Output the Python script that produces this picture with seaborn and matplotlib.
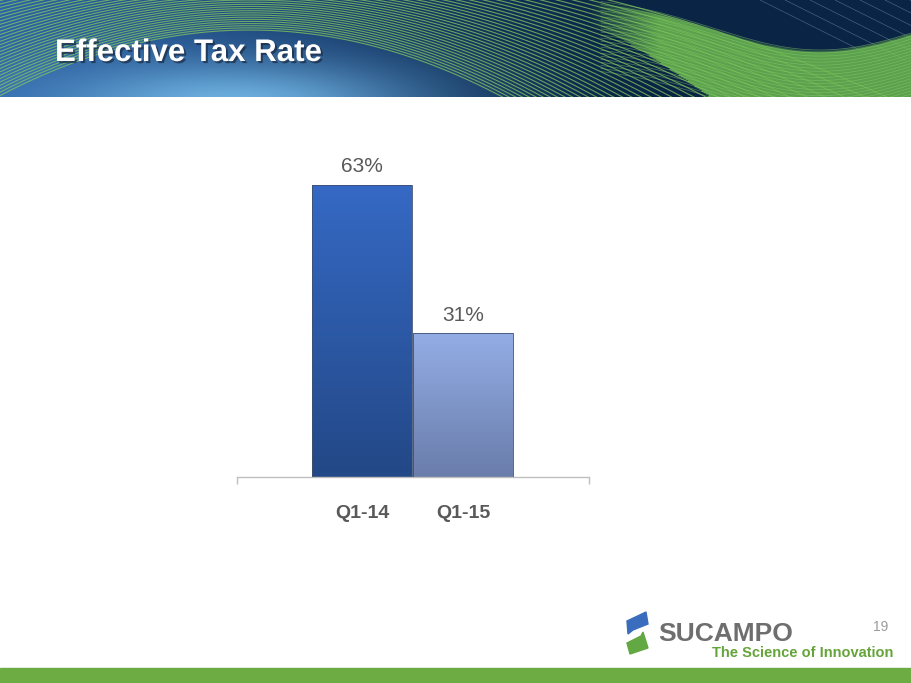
import numpy as np
import pandas as pd
import seaborn as sns
import matplotlib.pyplot as plt
import matplotlib.patheffects as pe
from matplotlib.patches import Polygon, Rectangle
from matplotlib.colors import LinearSegmentedColormap, to_rgb

quarters = ["Q1-14", "Q1-15"]
tax_rates = [63, 31]
bar_colors = ["#2f5fb3", "#8099d2"]

W, H = 911, 683

sns.set_theme(style="white")
plt.rcParams['font.family'] = ['Liberation Sans', 'DejaVu Sans']

fig = plt.figure(figsize=(W / 100, H / 100), dpi=100)
fig.patch.set_facecolor("white")

# ---- header banner ----
ban_h = 97
ax_bg = fig.add_axes([0, 1 - ban_h / H, 1, ban_h / H])
ax_bg.set_xlim(0, W)
ax_bg.set_ylim(ban_h, 0)
ax_bg.axis("off")

xx, yy = np.meshgrid(np.linspace(0, W, 400), np.linspace(0, ban_h, 80))
left_c = np.array(to_rgb("#2c62a6"))
right_c = np.array(to_rgb("#0a2445"))
light_c = np.array(to_rgb("#6cafdf"))
frac = np.clip(xx / 620, 0, 1)[..., None]
img = left_c * (1 - frac) + right_c * frac
spot = np.exp(-(((xx - 230) / 190) ** 2 + ((yy - 105) / 45) ** 2))[..., None]
img = img * (1 - spot) + light_c * spot
ax_bg.imshow(img, extent=(0, W, ban_h, 0), aspect="auto", zorder=0)

xs = np.linspace(0, W, 800)
# arching family of thin lines from the left, descending to lower right
for a, c in zip(np.linspace(-45, 30, 36), np.linspace(0.00035, 0.00105, 36)):
    ax_bg.plot(xs, a + c * (xs - 250) ** 2, color="#84c85f", lw=0.8, alpha=0.75, zorder=1)

# solid green wave band on the right
def band_top(x):
    return -5 + 55 * np.exp(-((x - 820) / 150) ** 2)

top = band_top(xx)
bottom = top + 26 + np.clip(xx - 600, 0, None) * 0.4
ramp = np.clip((xx - 590) / 70, 0, 1)
inside = (yy >= top) & (yy <= bottom)
soft = np.clip((yy - top) / 3, 0, 1)
rgba = np.zeros(xx.shape + (4,))
rgba[..., :3] = to_rgb("#6cb94f")
rgba[..., 3] = np.where(inside, 0.85 * ramp * soft, 0)
ax_bg.imshow(rgba, extent=(0, W, ban_h, 0), aspect="auto", zorder=2)
xr = xs[xs > 600]
for d in np.linspace(0, 70, 24):
    ax_bg.plot(xr, band_top(xr) + d, color="#8fd070", lw=0.5, alpha=0.5, zorder=3)
# faint diagonal lines top right
for s in np.linspace(880, 1080, 9):
    ax_bg.plot([s - 120, s], [0, 60], color="#8fa7bf", lw=0.5, alpha=0.45, zorder=1)

fig.text(55 / W, 1 - 53 / H, "Effective Tax Rate", color="white", fontsize=22.5,
         fontweight="bold", va="center", ha="left",
         path_effects=[pe.withSimplePatchShadow(offset=(1.5, -1.5), shadow_rgbFace="#1a2a40", alpha=0.7)])

# ---- chart ----
ax = fig.add_axes([237 / W, 1 - 477 / H, (589 - 237) / W, (477 - 152) / H])
df = pd.DataFrame({"quarter": quarters, "rate": tax_rates})
sns.barplot(data=df, x="quarter", y="rate", hue="quarter", palette=bar_colors,
            width=0.99, legend=False, ax=ax, edgecolor="#3f4f70", linewidth=0.6)

grads = [("#3569c4", "#234887"), ("#93ade5", "#6a7dab")]
for patch, (top_c, bot_c) in zip(ax.patches, grads):
    x0, y0 = patch.get_x(), patch.get_y()
    w, h = patch.get_width(), patch.get_height()
    cmap = LinearSegmentedColormap.from_list("g", [bot_c, top_c])
    im = ax.imshow(np.linspace(0, 1, 100)[:, None], cmap=cmap, origin="lower",
                   extent=(x0, x0 + w, y0, y0 + h), aspect="auto", zorder=2)
    im.set_clip_path(patch)
    patch.set_zorder(3)
    patch.set_facecolor("none")

for cont in ax.containers:
    ax.bar_label(cont, fmt="%d%%", padding=6, fontsize=15, color="#595959")

ax.set_xlim(-1.24, 2.25)
ax.set_ylim(0, 70)
ax.set_xlabel("")
ax.set_ylabel("")
ax.set_yticks([])
for s in ["top", "left", "right"]:
    ax.spines[s].set_visible(False)
ax.spines["bottom"].set_color("#bfbfbf")
ax.spines["bottom"].set_linewidth(1)
ax.tick_params(axis="x", which="major", bottom=False, length=0, pad=20,
               labelsize=14, labelcolor="#595959")
for lab in ax.get_xticklabels():
    lab.set_fontweight("bold")
ax.set_xticks([-1.239, 2.249], minor=True)
ax.tick_params(axis="x", which="minor", bottom=True, length=5, color="#bfbfbf",
               width=1, direction="out")
ax.set_facecolor("none")

# ---- footer ----
ax_ft = fig.add_axes([0, 0, 1, 1], zorder=-1)
ax_ft.set_xlim(0, W)
ax_ft.set_ylim(H, 0)
ax_ft.axis("off")
ax_ft.add_patch(Rectangle((0, 668), W, 15, color="#6dab43"))
ax_ft.add_patch(Polygon([[627, 621], [646, 612], [648, 624], [633, 630], [628, 634]],
                        color="#3a6dbd"))
ax_ft.add_patch(Polygon([[627, 643], [641, 636], [643, 632], [648, 648], [630, 654]],
                        color="#62a843"))

fig.text(658 / W, 1 - 634 / H, "SUCAMPO", color="#6e6e6e", fontsize=19,
         fontweight="bold", va="center", ha="left")
fig.text(893 / W, 1 - 653 / H, "The Science of Innovation", color="#65a43a",
         fontsize=10.5, fontweight="bold", va="center", ha="right")
fig.text(888 / W, 1 - 627 / H, "19", color="#9a9a9a", fontsize=10, va="center", ha="right")

fig.savefig("out.png", dpi=100)
